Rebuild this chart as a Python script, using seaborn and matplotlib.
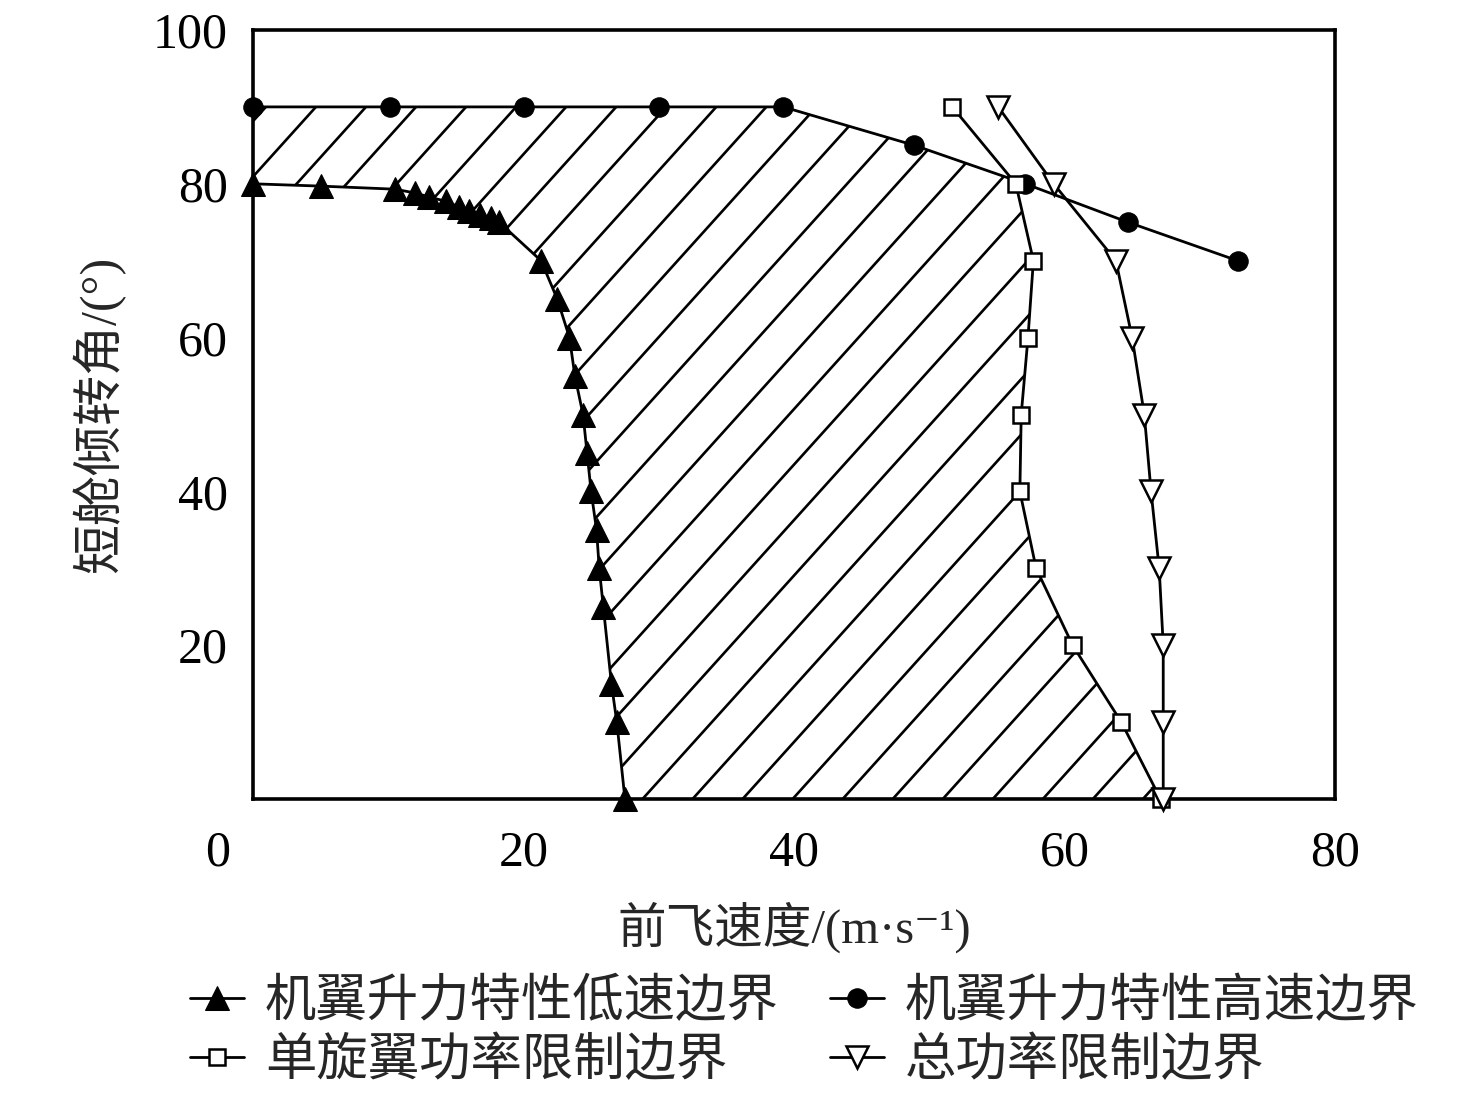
import numpy as np
import matplotlib
matplotlib.use("Agg")
import matplotlib.pyplot as plt
import matplotlib.transforms as mtransforms
from matplotlib.patches import Polygon
import seaborn as sns

# ---------------- data ----------------
low_x = [0.0, 5.0, 10.5, 12.0, 13.0, 14.3, 15.2, 16.0, 16.8, 17.6, 18.2,
         21.3, 22.5, 23.4, 23.8, 24.4, 24.7, 25.0, 25.4, 25.6, 25.9, 26.5, 26.9, 27.5]
low_y = [80.0, 79.7, 79.3, 78.8, 78.3, 77.7, 77.0, 76.5, 76.0, 75.5, 75.0,
         70, 65, 60, 55, 50, 45, 40, 35, 30, 25, 15, 10, 0]

high_x = [0.0, 10.1, 20.0, 30.0, 39.2, 48.9, 57.1, 64.7, 72.8]
high_y = [90, 90, 90, 90, 90, 85, 80, 75, 70]

single_x = [51.7, 56.4, 57.7, 57.3, 56.8, 56.7, 57.9, 60.6, 64.2, 67.1]
single_y = [90, 80, 70, 60, 50, 40, 30, 20, 10, 0]

total_x = [55.1, 59.2, 63.8, 65.0, 65.9, 66.4, 67.0, 67.3, 67.3, 67.3]
total_y = [90, 80, 70, 60, 50, 40, 30, 20, 10, 0]

labels = ["机翼升力特性低速边界", "机翼升力特性高速边界", "单旋翼功率限制边界", "总功率限制边界"]
x_ticks = [0, 20, 40, 60, 80]
y_ticks = [20, 40, 60, 80, 100]
xlabel = "前飞速度/(m·s⁻¹)"
ylabel = "短舱倾转角/(°)"

# ---------------- style ----------------
sns.set_style("white")
plt.rcParams["font.family"] = ["Liberation Serif", "Noto Sans CJK SC", "DejaVu Sans"]
mixed = ["Liberation Serif", "Noto Sans CJK SC", "DejaVu Sans"]

fig = plt.figure(figsize=(14.76, 10.93), dpi=100)
ax = fig.add_axes([253/1476, 1-799/1093, (1335-253)/1476, (799-30)/1093])

lw = 2.0
common = dict(sort=False, estimator=None, ax=ax, color="black", lw=lw, clip_on=False, zorder=3)
sns.lineplot(x=low_x, y=low_y, marker="^", markersize=17, markerfacecolor="black",
             markeredgecolor="black", label=labels[0], **common)
sns.lineplot(x=high_x, y=high_y, marker="o", markersize=14, markerfacecolor="black",
             markeredgecolor="black", label=labels[1], **common)
sns.lineplot(x=single_x, y=single_y, marker="s", markersize=11, markerfacecolor="white",
             markeredgecolor="black", markeredgewidth=1.8, label=labels[2], **common)
sns.lineplot(x=total_x, y=total_y, marker="v", markersize=16, markerfacecolor="white",
             markeredgecolor="black", markeredgewidth=1.8, label=labels[3], **common)

ax.set_xlim(0, 80)
ax.set_ylim(0, 100)

# ---------------- hatched feasible region ----------------
def seg_intersect(p1, p2, p3, p4):
    p1, p2, p3, p4 = map(np.asarray, (p1, p2, p3, p4))
    d1 = p2 - p1
    d2 = p4 - p3
    A = np.array([d1, -d2]).T
    t, _ = np.linalg.solve(A, p3 - p1)
    return p1 + t * d1

P = seg_intersect((high_x[5], high_y[5]), (high_x[6], high_y[6]),
                  (single_x[0], single_y[0]), (single_x[1], single_y[1]))
verts = list(zip(high_x[:6], high_y[:6])) + [tuple(P)] + \
        list(zip(single_x[1:], single_y[1:])) + list(zip(low_x[::-1], low_y[::-1]))
poly = Polygon(verts, closed=True, facecolor="none", edgecolor="none")
ax.add_patch(poly)

slope = 1.95
spacing = 3.7
xs = np.array([-80.0, 160.0])
for c in np.arange(-60, 90, spacing):
    ln, = ax.plot(xs, slope * (xs - c), color="black", lw=1.9, zorder=1)
    ln.set_clip_path(poly)

# ---------------- axes styling ----------------
for s in ax.spines.values():
    s.set_linewidth(2.6)
    s.set_color("black")
    s.set_zorder(2.5)
ax.set_xticks(x_ticks)
ax.set_yticks(y_ticks)
ax.tick_params(direction="in", length=9, width=2.2, labelsize=36, pad=18,
               top=False, right=False, colors="black")
ax.tick_params(axis="x", pad=22)
offset = mtransforms.ScaledTranslation(-0.35, 0, fig.dpi_scale_trans)
lbl0 = ax.get_xticklabels()[0]
lbl0.set_transform(lbl0.get_transform() + offset)

ax.set_xlabel(xlabel, fontsize=35, family=mixed, labelpad=18)
ax.set_ylabel(ylabel, fontsize=36, family=mixed, labelpad=20)

ax.get_legend().remove()
handles, labs = ax.get_legend_handles_labels()
order = [0, 2, 1, 3]
fig.legend([handles[i] for i in order], [labs[i] for i in order], loc="center",
           bbox_to_anchor=(0.545, 0.057), ncol=2, frameon=False,
           prop={"family": ["Noto Sans CJK SC", "DejaVu Sans"], "size": 37},
           handlelength=1.05, handletextpad=0.4, columnspacing=1.0,
           labelspacing=0.1, borderpad=0.1)

fig.savefig("out.png", dpi=100, facecolor="white")
